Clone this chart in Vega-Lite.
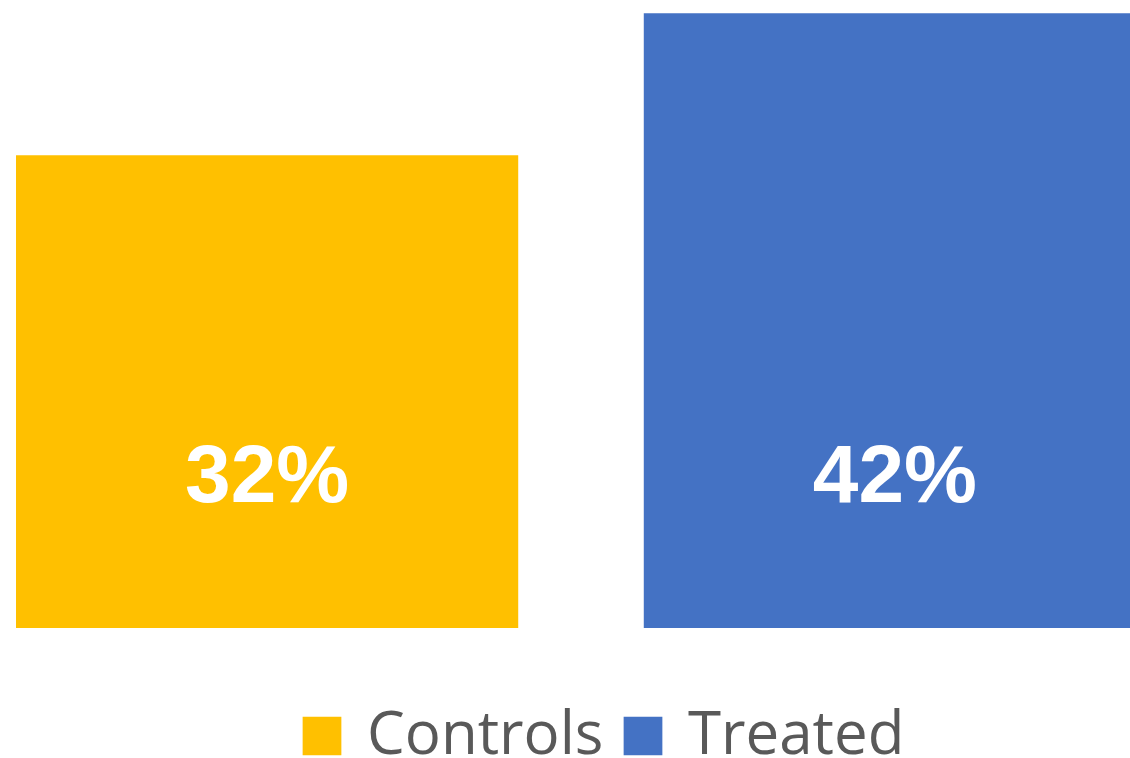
{
  "$schema": "https://vega.github.io/schema/vega-lite/v6.json",
  "width": 1130,
  "height": 628,
  "autosize": {"type": "none"},
  "padding": {"left": 16, "top": 0, "right": -16, "bottom": 130},
  "background": "white",
  "data": {
    "values": [
      {"group": "Controls", "value": 32.3, "label": "32%"},
      {"group": "Treated", "value": 42, "label": "42%"}
    ]
  },
  "encoding": {
    "x": {
      "field": "group",
      "type": "nominal",
      "sort": ["Controls", "Treated"],
      "scale": {"paddingInner": 0.2, "paddingOuter": 0},
      "axis": null
    }
  },
  "layer": [
    {
      "mark": {"type": "bar"},
      "encoding": {
        "y": {
          "field": "value",
          "type": "quantitative",
          "scale": {"domain": [0, 42.9], "nice": false},
          "axis": null
        },
        "color": {
          "field": "group",
          "type": "nominal",
          "scale": {"domain": ["Controls", "Treated"], "range": ["#FFC000", "#4472C4"]},
          "legend": {
            "title": null,
            "orient": "none",
            "direction": "horizontal",
            "legendX": 276,
            "legendY": 706,
            "symbolType": "square",
            "symbolSize": 1500,
            "symbolStrokeWidth": 0,
            "labelFont": "Open Sans",
            "labelFontSize": 60,
            "labelColor": "#595959",
            "labelOffset": 15,
            "columnPadding": 9,
            "labelLimit": 400
          }
        }
      }
    },
    {
      "mark": {
        "type": "text",
        "font": "Liberation Sans",
        "fontWeight": "bold",
        "fontSize": 82,
        "color": "white",
        "baseline": "alphabetic",
        "dy": -126
      },
      "encoding": {
        "y": {"datum": 0, "type": "quantitative"},
        "text": {"field": "label"}
      }
    }
  ],
  "config": {"view": {"stroke": null}}
}
